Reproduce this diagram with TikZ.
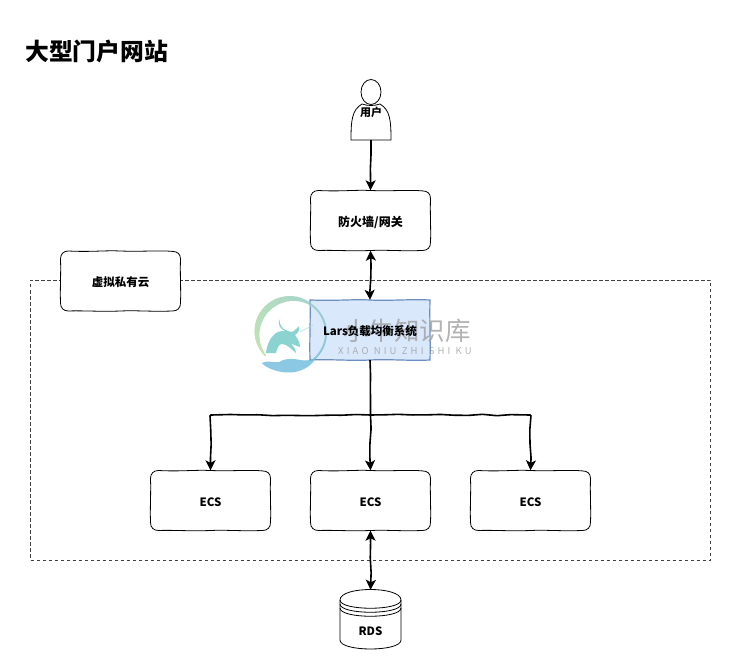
\documentclass[tikz,border=0pt]{standalone}
\usepackage{fontspec}
\setmainfont{Noto Sans CJK SC}
\usetikzlibrary{arrows.meta,decorations.pathmorphing,calc}
\definecolor{larsfill}{HTML}{DAE8FC}
\definecolor{larsline}{HTML}{6C8EBF}
\definecolor{markgray}{HTML}{9A9A9A}
\definecolor{ringa}{HTML}{B7DE9C}
\definecolor{ringb}{HTML}{6FBBDD}
\definecolor{bull}{HTML}{6FC9C6}
\definecolor{palm}{HTML}{6DBBDD}
\pgfmathsetseed{7}
\tikzset{
  wobble/.style={decorate,decoration={random steps,segment length=14pt,amplitude=0.7pt}},
  cardtext/.style={font=\fontsize{11.5}{13}\selectfont\bfseries,text=black,inner sep=0pt},
  cardslot/.style={inner sep=0pt,minimum width=120pt,minimum height=60pt},
  outline/.style={draw=black,line width=0.8pt,fill=white},
  link/.style={line width=1.6pt,draw=black,wobble,rounded corners=1pt},
  oneway/.style={link,-{Stealth[length=10pt,width=10pt,inset=2.5pt]}},
  twoway/.style={link,{Stealth[length=10pt,width=10pt,inset=2.5pt]}-{Stealth[length=10pt,width=10pt,inset=2.5pt]}},
  zone/.style={draw=black!75,line width=0.7pt,dash pattern=on 3.5pt off 2.5pt,minimum width=680pt,minimum height=280pt,inner sep=0pt},
  slot/.style={minimum width=60pt,minimum height=60pt,inner sep=0pt},
}
% rounded box with slightly wavy, hand-drawn sides: name, centre, label
\newcommand{\sketchcard}[3]{%
  \begin{scope}[shift={(#2)}]
    \draw[outline] (-52,-30) .. controls (-30,-28.8) and (-15,-30.8) .. (0,-30)
      .. controls (20,-29.2) and (40,-30.8) .. (52,-29.6)
      .. controls (57,-29.5) and (60,-27) .. (60,-22)
      .. controls (59.4,-8) and (60.6,8) .. (60,22)
      .. controls (60,27) and (57,30) .. (52,30)
      .. controls (30,30.8) and (15,29.2) .. (0,30)
      .. controls (-20,30.8) and (-40,29.4) .. (-52,30)
      .. controls (-57,30) and (-60,27) .. (-60,22)
      .. controls (-60.6,8) and (-59.4,-8) .. (-60,-22)
      .. controls (-60,-27) and (-57,-30) .. (-52,-30) -- cycle;
  \end{scope}
  \node[cardslot] (#1) at (#2) {};%
  \node[cardtext] (#1label) at ($(#2)+(0,1.5)$) {#3};%
}
\begin{document}
\begin{tikzpicture}[x=1pt,y=-1pt]
\useasboundingbox[fill=white] (0,0) rectangle (731,671);

\node[anchor=west,inner sep=0pt,font=\fontsize{23.8}{26}\selectfont\bfseries] (title) at (25,51) {大型门户网站};

% private cloud boundary and its tag
\node[zone] (zonebox) at (370.5,420) {};
\sketchcard{vpc}{120.5,281}{虚拟私有云}

% user figure
\draw[line width=0.8pt,fill=white] (371,92) ellipse (10pt and 12.5pt);
\draw[line width=0.8pt,fill=white] (351,140) .. controls (351,120) and (352,110) .. (362,104)
  .. controls (368,106) and (374,106) .. (380,104)
  .. controls (390,110) and (391,120) .. (391,140) -- cycle;
\node[slot,minimum width=40pt] (user) at (371,110) {};
\node[font=\fontsize{11}{12}\selectfont\bfseries,inner sep=0pt] (userlabel) at (371,112) {用户};

% service boxes
\sketchcard{gate}{370.5,220.5}{\fontsize{12}{13}\selectfont 防火墙/网关}
\begin{scope}[shift={(370,330)}]
  \draw[draw=larsline,line width=1.2pt,fill=larsfill] (-60,-30) .. controls (-30,-29) and (-15,-31) .. (0,-30)
    .. controls (20,-29) and (40,-31) .. (60,-30)
    .. controls (59.4,-10) and (60.6,10) .. (60,30)
    .. controls (40,31) and (20,29) .. (0,30)
    .. controls (-20,31) and (-40,29) .. (-60,30)
    .. controls (-60.6,10) and (-59.4,-10) .. (-60,-30) -- cycle;
\end{scope}
\node[cardslot] (lars) at (370,330) {};
\sketchcard{ecsa}{210.5,500.5}{ECS}
\sketchcard{ecsb}{370.5,500.5}{ECS}
\sketchcard{ecsc}{530.5,500.5}{ECS}

% database cylinder
\draw[line width=0.8pt,fill=white] (340,600) -- (340,640) .. controls (340,652) and (401,652) .. (401,640) -- (401,600)
  .. controls (401,586) and (340,586) .. (340,600) -- cycle;
\draw[line width=0.8pt] (340,600) .. controls (340,611) and (401,611) .. (401,600);
\draw[line width=0.8pt] (340,604) .. controls (340,615) and (401,615) .. (401,604);
\draw[line width=0.8pt] (340,608) .. controls (340,619) and (401,619) .. (401,608);
\node[slot] (rds) at (370.5,620) {};
\node[font=\fontsize{11.5}{13}\selectfont\bfseries,inner sep=0pt] (rdslabel) at (370.5,631.5) {RDS};

% connectors
\coordinate (trunk) at (370.5,415);
\draw[oneway] (user.south) -- (gate.north);
\draw[twoway] (gate.south) -- (lars.north);
\draw[link] (lars.south) -- (trunk);
\draw[oneway] (trunk) -| (ecsa.north);
\draw[oneway] (trunk) -- (ecsb.north);
\draw[oneway] (trunk) -| (ecsc.north);
\draw[twoway] (ecsb.south) -- (rds.north);

% site emblem and wordmark laid over the drawing
\begin{scope}[transparency group,opacity=0.8]
  \foreach \a in {140,146,...,434}{
    \pgfmathsetmacro{\mixval}{100-(\a-140)/2.94}
    \pgfmathsetmacro{\wd}{1+4.5*sin(min(180,(\a-140)*1.1))+0.9}
    \draw[color=ringa!\mixval!ringb,line width=\wd pt,line cap=round]
      ({291.5+34.5*cos(\a)},{333+34.5*sin(\a)}) -- ({291.5+34.5*cos(\a+6)},{333+34.5*sin(\a+6)});
  }
  % bull
  \fill[bull] (280,319) .. controls (279,325) and (282,329) .. (288,331)
    .. controls (292,333) and (295,331) .. (296,329) .. controls (297,328) and (298,327) .. (299,326)
    .. controls (300,330) and (298,333) .. (295,335)
    .. controls (298,339) and (300,343) .. (300,347)
    .. controls (296,346) and (292,344) .. (289,342)
    .. controls (293,345) and (296,349) .. (296,353)
    .. controls (291,349) and (287,344) .. (282,344)
    .. controls (279,344) and (277,348) .. (276,353)
    -- (266,353)
    .. controls (267,345) and (270,337) .. (276,333)
    .. controls (279,331) and (283,331) .. (285,331)
    .. controls (280,329) and (277,324) .. (280,319) -- cycle;
  \draw[bull!60,line width=0.7pt] (300,332) -- (313,325);
  % open hand
  \fill[palm] (261.5,363) .. controls (268,360) and (273,363) .. (279,362)
    .. controls (283,359) and (292,358) .. (300,360)
    .. controls (305,361) and (310,360) .. (315,359)
    .. controls (311,367) and (300,372) .. (291,372.5)
    .. controls (279,373) and (268,369) .. (261.5,363) -- cycle;
\end{scope}
\node[text=markgray,opacity=0.75,font=\fontsize{25.5}{28}\selectfont,anchor=west,inner sep=0pt] (wordcn) at (343,331) {小牛知识库};
\node[text=markgray,opacity=0.75,font=\fontsize{9.5}{11}\addfontfeature{LetterSpace=33}\selectfont,anchor=west,inner sep=0pt] (worden) at (338,351) {XIAO NIU ZHI SHI KU};
% box caption stays legible on top of the wordmark
\node[cardtext] (larslabel) at (370,331.5) {Lars负载均衡系统};
\end{tikzpicture}
\end{document}
